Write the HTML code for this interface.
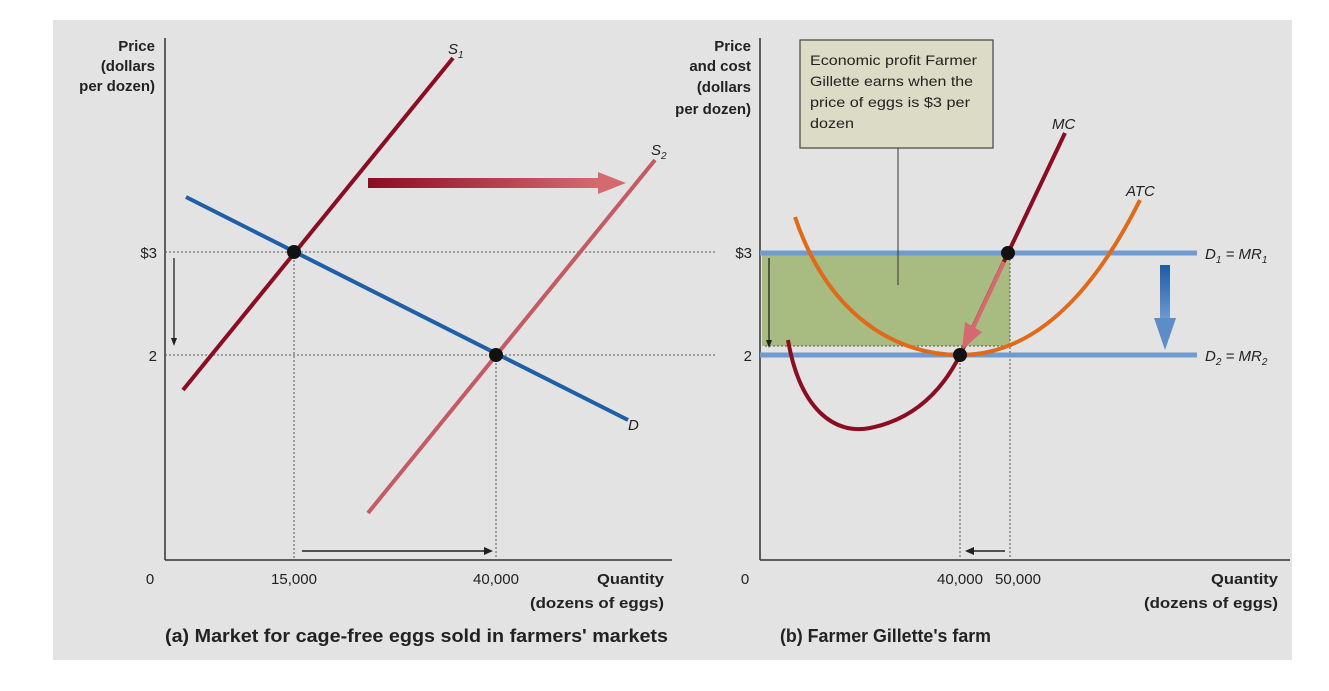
<!DOCTYPE html>
<html><head><meta charset="utf-8"><style>
body{margin:0;background:#fff;}
svg{display:block;font-family:"Liberation Sans",sans-serif;}
.b{font-weight:bold;font-size:15px;fill:#222;}
.t{font-size:15px;fill:#222;}
.i{font-style:italic;font-size:15px;fill:#222;}
</style></head><body>
<svg width="1329" height="691" viewBox="0 0 1329 691">
<defs>
<linearGradient id="g1" x1="0" x2="1"><stop offset="0" stop-color="#8a0d22"/><stop offset="1" stop-color="#d46a70"/></linearGradient>
<linearGradient id="g2" x1="0" y1="0" x2="0" y2="1"><stop offset="0" stop-color="#1d5ba6"/><stop offset="1" stop-color="#6f9bd0"/></linearGradient>
</defs>
<rect x="53" y="20" width="1239" height="640" fill="#e3e3e3"/>
<line x1="165" y1="38" x2="165" y2="560" stroke="#333" stroke-width="1.5"/>
<line x1="165" y1="560" x2="672" y2="560" stroke="#333" stroke-width="1.5"/>
<g stroke="#555" stroke-dasharray="2,2" stroke-width="1">
<line x1="165" y1="252" x2="715" y2="252"/><line x1="165" y1="355" x2="715" y2="355"/>
<line x1="294" y1="252" x2="294" y2="560"/><line x1="496" y1="355" x2="496" y2="560"/>
</g>
<line x1="186" y1="197" x2="628" y2="420" stroke="#1f5fa8" stroke-width="4"/>
<line x1="183" y1="390" x2="453" y2="58" stroke="#8a0d22" stroke-width="4"/>
<line x1="368" y1="513" x2="655" y2="160" stroke="#c45a63" stroke-width="4"/>
<rect x="368" y="178" width="230" height="10" fill="url(#g1)"/>
<polygon points="598,172 626,183 598,194" fill="#d46a70"/>
<circle cx="294" cy="252" r="7" fill="#111"/><circle cx="496" cy="355" r="7" fill="#111"/>
<line x1="174" y1="258" x2="174" y2="340" stroke="#222" stroke-width="1.3"/><polygon points="171,338 177,338 174,346" fill="#222"/>
<line x1="302" y1="551" x2="486" y2="551" stroke="#222" stroke-width="1.5"/><polygon points="484,547 493,551 484,555" fill="#222"/>
<text class="b" text-anchor="end" x="155" y="51">Price</text>
<text class="b" text-anchor="end" x="155" y="71">(dollars</text>
<text class="b" text-anchor="end" x="155" y="91">per dozen)</text>
<text class="t" text-anchor="end" x="157" y="258">$3</text>
<text class="t" text-anchor="end" x="157" y="361">2</text>
<text class="t" text-anchor="middle" x="150" y="584">0</text>
<text class="t" text-anchor="middle" x="294" y="584">15,000</text>
<text class="t" text-anchor="middle" x="496" y="584">40,000</text>
<text class="b" x="597" y="584" textLength="67" lengthAdjust="spacingAndGlyphs">Quantity</text>
<text class="b" x="530" y="608" textLength="134" lengthAdjust="spacingAndGlyphs">(dozens of eggs)</text>
<text class="i" x="448" y="54">S<tspan font-size="10" dy="4">1</tspan></text>
<text class="i" x="651" y="155">S<tspan font-size="10" dy="4">2</tspan></text>
<text class="i" x="628" y="430">D</text>
<text x="165" y="642" textLength="503" lengthAdjust="spacingAndGlyphs" style="font-weight:bold;font-size:18px;fill:#222">(a) Market for cage-free eggs sold in farmers' markets</text>
<rect x="762" y="255" width="248" height="91" fill="#a8bb80"/>
<line x1="760" y1="38" x2="760" y2="560" stroke="#333" stroke-width="1.5"/>
<line x1="760" y1="560" x2="1290" y2="560" stroke="#333" stroke-width="1.5"/>
<g stroke="#555" stroke-dasharray="2,2" stroke-width="1">
<line x1="765" y1="346" x2="1010" y2="346"/>
<line x1="1010" y1="255" x2="1010" y2="560"/><line x1="960" y1="355" x2="960" y2="560"/>
</g>
<line x1="760" y1="253" x2="1197" y2="253" stroke="#6f9bd0" stroke-width="5"/>
<line x1="760" y1="355" x2="1197" y2="355" stroke="#6f9bd0" stroke-width="5"/>
<path d="M795,217 C830,320 900,355 960,355 C1030,355 1090,300 1140,200" fill="none" stroke="#e06a1a" stroke-width="4"/>
<path d="M788,340 C800,410 835,435 870,428 C910,420 940,395 960,355 L1008,253 L1065,133" fill="none" stroke="#8a0d22" stroke-width="4"/>
<line x1="1004" y1="262" x2="972" y2="330" stroke="#d46a70" stroke-width="4"/>
<polygon points="962,350 965,322 982,332" fill="#d46a70"/>
<circle cx="1008" cy="253" r="7" fill="#111"/><circle cx="960" cy="355" r="7" fill="#111"/>
<rect x="1160" y="265" width="10" height="55" fill="url(#g2)"/>
<polygon points="1154,318 1176,318 1165,350" fill="#5d8cc8"/>
<line x1="769" y1="258" x2="769" y2="342" stroke="#222" stroke-width="1.3"/><polygon points="766,340 772,340 769,348" fill="#222"/>
<line x1="972" y1="551" x2="1005" y2="551" stroke="#222" stroke-width="1.5"/><polygon points="974,547 965,551 974,555" fill="#222"/>
<line x1="898" y1="148" x2="898" y2="285" stroke="#333" stroke-width="1"/>
<rect x="800" y="40" width="193" height="108" fill="#dcdcc6" stroke="#444" stroke-width="1.2"/>
<text class="t" x="810" y="65" textLength="167" lengthAdjust="spacingAndGlyphs" style="font-size:14px">Economic profit Farmer</text>
<text class="t" x="810" y="86" textLength="163" lengthAdjust="spacingAndGlyphs" style="font-size:14px">Gillette earns when the</text>
<text class="t" x="810" y="107" textLength="160" lengthAdjust="spacingAndGlyphs" style="font-size:14px">price of eggs is $3 per</text>
<text class="t" x="810" y="128" textLength="44" lengthAdjust="spacingAndGlyphs" style="font-size:14px">dozen</text>
<text class="b" text-anchor="end" x="751" y="51">Price</text>
<text class="b" text-anchor="end" x="751" y="71">and cost</text>
<text class="b" text-anchor="end" x="751" y="92">(dollars</text>
<text class="b" text-anchor="end" x="751" y="114">per dozen)</text>
<text class="t" text-anchor="end" x="752" y="258">$3</text>
<text class="t" text-anchor="end" x="752" y="361">2</text>
<text class="t" text-anchor="middle" x="745" y="584">0</text>
<text class="t" text-anchor="middle" x="960" y="584">40,000</text>
<text class="t" text-anchor="middle" x="1018" y="584">50,000</text>
<text class="b" x="1211" y="584" textLength="67" lengthAdjust="spacingAndGlyphs">Quantity</text>
<text class="b" x="1144" y="608" textLength="134" lengthAdjust="spacingAndGlyphs">(dozens of eggs)</text>
<text class="i" x="1052" y="129">MC</text>
<text class="i" x="1126" y="196">ATC</text>
<text class="i" x="1205" y="259">D<tspan font-size="10" dy="4">1</tspan><tspan dy="-4"> = MR</tspan><tspan font-size="10" dy="4">1</tspan></text>
<text class="i" x="1205" y="361">D<tspan font-size="10" dy="4">2</tspan><tspan dy="-4"> = MR</tspan><tspan font-size="10" dy="4">2</tspan></text>
<text x="780" y="642" textLength="211" lengthAdjust="spacingAndGlyphs" style="font-weight:bold;font-size:18px;fill:#222">(b) Farmer Gillette's farm</text>
</svg>
</body></html>
